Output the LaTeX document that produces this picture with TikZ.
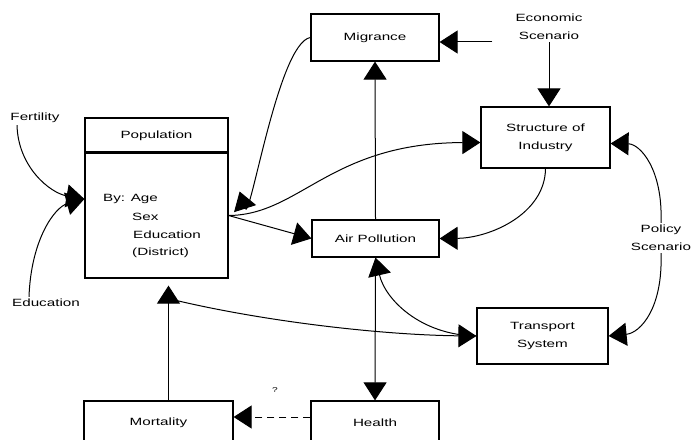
\documentclass[tikz,border=0pt]{standalone}
\usepackage{fontspec}
\setmainfont[FakeStretch=1.45]{Liberation Sans}
\usetikzlibrary{arrows.meta}

\tikzset{
  lbl/.style={font=\fontsize{10.5}{18}\selectfont, align=center, inner sep=2pt},
  block/.style={draw, line width=1.2pt, lbl},
  poptext/.style={lbl, anchor=west, inner sep=0pt},
  arr/.style={-{Triangle[length=18pt,width=23pt]}, line width=1pt},
}

\begin{document}
\begin{tikzpicture}[x=1pt,y=1pt]
  \useasboundingbox (0,0) rectangle (692,439);

  % population box with its header
  \node[block, minimum width=143pt, minimum height=35pt] (pophead) at (156.5,303.5) {Population};
  \node[block, minimum width=143pt, minimum height=125pt] (pop) at (156.5,223.5) {};
  \draw[line width=2.5pt] (pop.north west) -- (pop.north east);
  \node[poptext] (popby) at (103,240) {By: Age};
  \node[poptext] (popsex) at (132,222) {Sex};
  \node[poptext] (popedu) at (133,204) {Education};
  \node[poptext] (popdist) at (132,186) {(District)};

  % other boxes
  \node[block, minimum width=128pt, minimum height=47pt] (mig) at (375,401.5) {Migrance};
  \node[block, minimum width=129pt, minimum height=61pt] (ind) at (545.5,301.5) {Structure of\\Industry};
  \node[block, minimum width=127pt, minimum height=37pt] (air) at (375.5,200.5) {Air Pollution};
  \node[block, minimum width=131pt, minimum height=56pt] (trans) at (542.5,103) {Transport\\System};
  \node[block, minimum width=149pt, minimum height=44pt] (mort) at (158.5,16) {Mortality};
  \node[block, minimum width=128pt, minimum height=44pt] (health) at (375,16) {Health};

  % free labels
  \node[lbl] (fert) at (35,321) {Fertility};
  \node[lbl] (educ) at (46,136) {Education};
  \node[lbl] (econ) at (549,412) {Economic\\Scenario};
  \node[lbl] (policy) at (661,201) {Policy\\Scenario};
  \node[font=\fontsize{7}{8}\selectfont] (quest) at (275,49) {?};

  % connectors
  \draw[arr] ([xshift=-18pt]fert.south) .. controls (18,272) and (50,246) .. (pop.west |- popby.west);
  \draw[arr] ([xshift=-17pt]educ.north) .. controls (31,200) and (55,232) .. (pop.west |- popby.west);
  \draw[-{Triangle[length=18pt,width=23pt,quick]}, line width=1pt]
    (mig.west) .. controls (278,396) and (250,215) .. ([xshift=11pt,yshift=24pt]pop.east);
  \draw[arr] (pop.east) .. controls (300,224) and (330,296) .. ([yshift=-5pt]ind.west);
  \draw[arr] (pop.east) -- (air.west);
  \draw[arr] (air.north) -- (mig.south);
  \coordinate (econout) at ([xshift=-21pt,yshift=-15pt]econ.west);
  \draw[arr] (econout) -- (econout -| mig.east);
  \draw[arr] (econ.south) -- (econ.south |- ind.north);
  \draw[arr] (ind.south) .. controls (545,225) and (490,201) .. (air.east);
  \draw[arr] (policy.north) .. controls (663,270) and (640,295) .. ([yshift=-6pt]ind.east);
  \draw[arr] (policy.south) .. controls (663,130) and (640,106) .. (trans.east);
  \draw[arr] ([xshift=12pt,yshift=-20pt]pop.south) .. controls (260,118) and (380,104) .. (trans.west);
  \draw[arr] (trans.west) .. controls (420,104) and (385,140) .. (air.south);
  \draw[arr] (air.south) -- (health.north);
  \draw[arr] ([xshift=10pt]mort.north) -- ([xshift=12pt,yshift=-7pt]pop.south);
  \draw[arr, dash pattern=on 7pt off 5pt] ([yshift=6pt]health.west) -- ([yshift=6pt]mort.east);
\end{tikzpicture}
\end{document}
